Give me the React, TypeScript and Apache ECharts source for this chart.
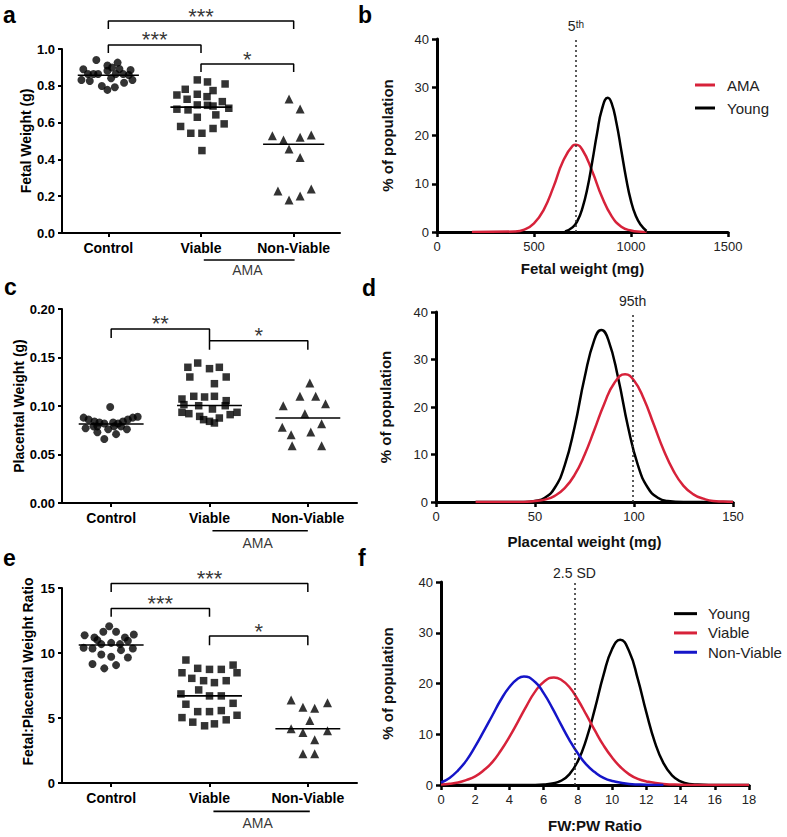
import React, { useEffect, useRef } from 'react';
import * as echarts from 'echarts';

const FONT = "'Liberation Sans', Arial, Helvetica, sans-serif";
const RED = '#d7223a';
const BLUE = '#1515c8';

// ---------- categories ----------
const groups = ['Control', 'Viable', 'Non-Viable'];

// ---------- panel a: fetal weight (g), [jitter offset, value] ----------
const fwControl = [[-0.13, 0.94], [-0.27, 0.89], [-0.29, 0.832], [-0.2, 0.826], [-0.16, 0.864], [-0.11, 0.864], [-0.07, 0.799], [-0.01, 0.91], [-0.01, 0.882], [0.03, 0.841], [-0.01, 0.778], [0.07, 0.792], [0.08, 0.864], [0.1, 0.926], [0.12, 0.891], [0.16, 0.864], [0.17, 0.817], [0.24, 0.886], [0.26, 0.832], [-0.22, 0.864], [0.04, 0.899], [0.22, 0.859]];
const fwViable = [[-0.04, 0.832], [0.07, 0.821], [0.26, 0.81], [-0.17, 0.781], [-0.26, 0.75], [-0.15, 0.727], [-0.04, 0.754], [0.13, 0.774], [0.065, 0.741], [-0.26, 0.673], [-0.14, 0.669], [-0.04, 0.696], [0.07, 0.694], [0.13, 0.69], [0.23, 0.714], [0.3, 0.678], [0.16, 0.642], [-0.04, 0.629], [-0.22, 0.579], [-0.11, 0.542], [0.01, 0.542], [0.13, 0.568], [0.25, 0.593], [0.01, 0.448]];
const fwNonViable = [[-0.05, 0.728], [0.07, 0.674], [-0.23, 0.529], [-0.11, 0.505], [0.07, 0.52], [0.19, 0.533], [-0.05, 0.457], [0.07, 0.411], [-0.17, 0.228], [-0.05, 0.179], [0.07, 0.201], [0.19, 0.239]];
const fwMeans = [0.857, 0.684, 0.482];

// ---------- panel c: placental weight (g) ----------
const pwControl = [[-0.28, 0.088], [-0.23, 0.086], [-0.17, 0.084], [-0.12, 0.083], [-0.07, 0.082], [-0.01, 0.099], [0.02, 0.083], [0.07, 0.082], [0.12, 0.084], [0.17, 0.086], [0.22, 0.088], [0.27, 0.089], [-0.26, 0.077], [-0.18, 0.079], [-0.14, 0.079], [-0.07, 0.066], [0.05, 0.071], [0.16, 0.076], [-0.14, 0.073], [-0.03, 0.076], [0.03, 0.079], [0.1, 0.079]];
const pwViable = [[-0.12, 0.1443], [-0.22, 0.1399], [0, 0.1385], [0.1, 0.1399], [-0.2, 0.1299], [0.17, 0.1299], [0.05, 0.123], [-0.28, 0.1072], [-0.16, 0.11], [0.05, 0.11], [0.17, 0.1055], [-0.26, 0.1014], [-0.11, 0.1003], [0.03, 0.0969], [0.16, 0.1003], [-0.28, 0.0935], [-0.21, 0.0921], [-0.1, 0.0893], [0, 0.0842], [0.1, 0.0876], [0.21, 0.0911], [0.28, 0.0935], [-0.06, 0.0859], [0.05, 0.0825], [-0.05, 0.1093]];
const pwNonViable = [[0.02, 0.1237], [-0.08, 0.11], [0.08, 0.11], [-0.25, 0.1003], [-0.03, 0.0921], [0.18, 0.1024], [-0.26, 0.078], [-0.17, 0.0704], [0.03, 0.0732], [0.14, 0.0818], [-0.16, 0.059], [0.14, 0.059]];
const pwMeans = [0.0814, 0.1005, 0.0876];

// ---------- panel e: fetal:placental weight ratio ----------
const ratioControl = [[-0.02, 12.06], [-0.27, 11.37], [-0.17, 11.19], [-0.08, 11.63], [0.05, 11.63], [0.14, 11.19], [0.23, 11.42], [-0.28, 10.4], [-0.19, 10.35], [-0.1, 10.68], [0, 10.78], [0.09, 10.68], [0.17, 10.94], [0.22, 10.35], [-0.1, 9.89], [0, 9.71], [0.17, 9.66], [-0.19, 9.15], [-0.07, 8.82], [0.05, 9.07], [-0.14, 10.99], [0.1, 10.22]];
const ratioViable = [[-0.24, 9.46], [-0.28, 8.48], [-0.12, 8.82], [0, 8.74], [0.12, 8.74], [0.24, 9.07], [0.28, 8.48], [-0.18, 8.05], [-0.06, 7.87], [0.05, 7.72], [0.17, 7.87], [-0.11, 7.16], [-0.29, 6.85], [0, 6.7], [0.12, 6.7], [-0.24, 6.06], [0.24, 6.13], [-0.12, 5.49], [0, 5.49], [0.12, 5.57], [0.28, 5.21], [-0.28, 5.03], [-0.17, 4.68], [-0.05, 4.4], [0.05, 4.55], [0.17, 4.86]];
const ratioNonViable = [[-0.17, 6.39], [-0.05, 5.83], [0.07, 5.75], [0.2, 6.18], [-0.17, 4.17], [0.02, 4.8], [-0.05, 3.88], [0.2, 4.01], [0.07, 3.32], [-0.05, 2.25], [0.07, 2.25]];
const ratioMeans = [10.62, 6.7, 4.17];

// ---------- significance brackets (category units / data units) ----------
type Bracket = { from: number; to: number; top: number; legFrom: number; legTo: number; stars: string };
const bracketsA: Bracket[] = [
  { from: 0, to: 2, top: 1.152, legFrom: 1.109, legTo: 1.109, stars: '***' },
  { from: 0, to: 1, top: 1.022, legFrom: 0.978, legTo: 0.978, stars: '***' },
  { from: 1, to: 2, top: 0.918, legFrom: 0.875, legTo: 0.875, stars: '*' },
];
const bracketsC: Bracket[] = [
  { from: 0, to: 1, top: 0.1794, legFrom: 0.1701, legTo: 0.1673, stars: '**' },
  { from: 1, to: 2, top: 0.1673, legFrom: 0.158, legTo: 0.158, stars: '*' },
];
const bracketsE: Bracket[] = [
  { from: 0, to: 2, top: 15.34, legFrom: 14.69, legTo: 14.69, stars: '***' },
  { from: 0, to: 1, top: 13.42, legFrom: 12.78, legTo: 12.78, stars: '***' },
  { from: 1, to: 2, top: 11.3, legFrom: 10.6, legTo: 10.6, stars: '*' },
];
// AMA group underline: [from, to, lineY, textX, textY]
const amaA = [1.03, 2.01, -0.147, 1.5, -0.2];
const amaC = [1.03, 2.0, -0.0286, 1.49, -0.041];
const amaE = [1.04, 2.02, -2.18, 1.49, -3.07];

// ---------- panel b: fetal weight distributions ----------
const bAmaX = [180, 400, 450, 500, 550, 600, 650, 700, 715, 750, 800, 850, 900, 950, 1000, 1050, 1080];
const bAmaY = [0, 0.1, 0.5, 1.8, 4.6, 9.3, 14.7, 17.9, 18.1, 17.0, 12.6, 7.3, 3.3, 1.1, 0.3, 0.05, 0];
const bYoungX = [660, 700, 725, 750, 775, 800, 825, 850, 880, 900, 925, 950, 975, 1000, 1025, 1050, 1080];
const bYoungY = [0.1, 1.0, 2.4, 5.0, 9.0, 14.5, 20.4, 25.4, 27.8, 26.7, 22.6, 16.9, 11.1, 6.4, 3.3, 1.5, 0.2];
const bCutoff = 716;

// ---------- panel d: placental weight distributions ----------
const dYoungX = [20, 45, 50, 55, 60, 65, 70, 75, 80, 83.5, 87, 92, 97, 102, 107, 112, 117, 125, 150];
const dYoungY = [0, 0, 0.2, 0.9, 3.0, 7.7, 15.8, 26.1, 34.2, 36.2, 34.2, 26.1, 15.8, 7.7, 3.0, 0.9, 0.2, 0, 0];
const dAmaX = [20, 40, 50, 55, 60, 65, 70, 75, 80, 85, 90, 95.5, 100, 105, 110, 115, 120, 125, 130, 135, 140, 145, 150];
const dAmaY = [0, 0, 0.2, 0.5, 1.3, 2.9, 5.7, 9.9, 15.2, 20.7, 25.0, 26.9, 25.6, 21.7, 16.3, 10.9, 6.5, 3.4, 1.6, 0.7, 0.2, 0.1, 0];
const dCutoff = 99.3;

// ---------- panel f: FW:PW ratio distributions ----------
const fYoungX = [0, 5, 6, 6.5, 7, 7.5, 8, 8.5, 9, 9.5, 10, 10.47, 11, 11.5, 12, 12.5, 13, 13.5, 14, 14.5, 15, 16, 18];
const fYoungY = [0, 0, 0.1, 0.3, 0.8, 2.1, 4.7, 9.1, 15.1, 21.7, 26.8, 28.6, 26.3, 20.9, 14.3, 8.4, 4.3, 1.9, 0.7, 0.2, 0.1, 0, 0];
const fViableX = [0, 0.5, 1, 1.5, 2, 2.5, 3, 3.5, 4, 4.5, 5, 5.5, 6, 6.6, 7, 7.5, 8, 8.5, 9, 9.5, 10, 10.5, 11, 11.5, 12, 13, 14, 15, 18];
const fViableY = [0.1, 0.25, 0.5, 1.0, 1.7, 2.9, 4.5, 6.8, 9.5, 12.5, 15.6, 18.4, 20.3, 21.2, 20.8, 19.3, 16.8, 13.8, 10.7, 7.8, 5.4, 3.5, 2.1, 1.2, 0.7, 0.2, 0.05, 0, 0];
const fNonViableX = [0, 0.5, 1, 1.5, 2, 2.5, 3, 3.5, 4, 4.5, 4.85, 5.5, 6, 6.5, 7, 7.5, 8, 8.5, 9, 9.5, 10, 11, 12, 13];
const fNonViableY = [0.5, 1.4, 2.9, 4.9, 7.6, 10.6, 13.7, 16.8, 19.3, 21.0, 21.4, 20.3, 18.1, 15.2, 12.0, 8.9, 6.2, 4.0, 2.5, 1.4, 0.8, 0.2, 0.05, 0];
const fCutoff = 7.8;

const zip = (xs: number[], ys: number[]) => xs.map((x, i) => [x, ys[i]]);

function buildOption(): any {
  const series: any[] = [];

  const boldLabel = { fontFamily: FONT, fontWeight: 'bold', color: '#000' };
  const plainLabel = { fontFamily: FONT, color: '#222' };

  const groupPanel = (
    xi: number, yi: number, yMax: number,
    sets: number[][][], means: number[], brackets: Bracket[], ama: number[],
  ) => {
    // left axis line, drawn through the hidden axis so it always sits at the grid edge
    series.push({
      type: 'line', xAxisIndex: xi, yAxisIndex: yi, symbol: 'none', silent: true, clip: false,
      lineStyle: { color: '#000', width: 2 },
      data: [[-0.5, 0], [-0.5, yMax]],
    });
    const symbols = ['circle', 'rect', 'triangle'];
    const sizes = [8, 7.5, 9];
    sets.forEach((pts, g) => {
      series.push({
        type: 'scatter', name: groups[g] + xi, xAxisIndex: xi, yAxisIndex: yi,
        symbol: symbols[g], symbolSize: sizes[g], clip: false, silent: true,
        itemStyle: { color: '#000' },
        data: pts.map(([o, v]) => [g + o, v]),
      });
    });
    means.forEach((m, g) => {
      series.push({
        type: 'line', xAxisIndex: xi, yAxisIndex: yi, symbol: 'none', silent: true, clip: false,
        lineStyle: { color: '#000', width: 1.6 },
        data: [[g - 0.33, m], [g + 0.33, m]],
      });
    });
    brackets.forEach((b) => {
      series.push({
        type: 'line', xAxisIndex: xi, yAxisIndex: yi, symbol: 'none', silent: true, clip: false,
        lineStyle: { color: '#000', width: 1.5 },
        data: [[b.from, b.legFrom], [b.from, b.top], [b.to, b.top], [b.to, b.legTo]],
      });
      series.push({
        type: 'scatter', xAxisIndex: xi, yAxisIndex: yi, symbolSize: 0, silent: true, clip: false,
        data: [[(b.from + b.to) / 2, b.top]],
        label: {
          show: true, position: 'inside', offset: [0, -5], formatter: b.stars,
          fontSize: 22, fontFamily: FONT, color: '#000',
        },
      });
    });
    series.push({
      type: 'line', xAxisIndex: xi, yAxisIndex: yi, symbol: 'none', silent: true, clip: false,
      lineStyle: { color: '#000', width: 1.6 },
      data: [[ama[0], ama[2]], [ama[1], ama[2]]],
    });
    series.push({
      type: 'scatter', xAxisIndex: xi, yAxisIndex: yi, symbolSize: 0, silent: true, clip: false,
      data: [[ama[3], ama[4]]],
      label: { show: true, position: 'inside', formatter: 'AMA', fontSize: 14, fontFamily: FONT, color: '#000' },
    });
  };

  groupPanel(1, 0, 1, [fwControl, fwViable, fwNonViable], fwMeans, bracketsA, amaA);
  groupPanel(4, 2, 0.2, [pwControl, pwViable, pwNonViable], pwMeans, bracketsC, amaC);
  groupPanel(7, 4, 15, [ratioControl, ratioViable, ratioNonViable], ratioMeans, bracketsE, amaE);

  const curve = (name: string, xi: number, yi: number, data: number[][], color: string, extra: any = {}) => ({
    type: 'line', name, xAxisIndex: xi, yAxisIndex: yi, symbol: 'none', showSymbol: false,
    smooth: 0.5, silent: true,
    lineStyle: { color, width: 2.5 }, itemStyle: { color }, data, ...extra,
  });
  const cutLine = (x: number, text: string, distance: number) => ({
    markLine: {
      silent: true, symbol: ['none', 'none'], animation: false,
      lineStyle: { type: [2, 3], color: '#333', width: 1.6 },
      label: {
        show: true, position: 'end', distance, formatter: text,
        fontSize: 14, fontFamily: FONT, color: '#222',
        rich: { s: { fontSize: 10, fontFamily: FONT, color: '#222', verticalAlign: 'top', lineHeight: 10 } },
      },
      data: [{ xAxis: x }],
    },
  });

  series.push(curve('AMA', 2, 1, zip(bAmaX, bAmaY), RED, cutLine(bCutoff, '5{s|th}', 6)));
  series.push(curve('Young', 2, 1, zip(bYoungX, bYoungY), '#000'));
  series.push(curve('Young placental', 5, 3, zip(dYoungX, dYoungY), '#000', cutLine(dCutoff, '95th', 4)));
  series.push(curve('AMA placental', 5, 3, zip(dAmaX, dAmaY), RED));
  series.push(curve('Young', 8, 5, zip(fYoungX, fYoungY), '#000', cutLine(fCutoff, '2.5 SD', 2)));
  series.push(curve('Viable', 8, 5, zip(fViableX, fViableY), RED));
  series.push(curve('Non-Viable', 8, 5, zip(fNonViableX, fNonViableY), BLUE));

  const grids = [
    { left: 62, top: 49, width: 278, height: 184 },
    { left: 437, top: 39, width: 291, height: 193 },
    { left: 62, top: 309, width: 295, height: 194 },
    { left: 436, top: 312, width: 297, height: 190 },
    { left: 62, top: 588, width: 295, height: 195 },
    { left: 441, top: 582, width: 308, height: 203 },
  ];

  const catAxis = (gridIndex: number) => ({
    type: 'category', gridIndex, data: groups, boundaryGap: true,
    axisLine: { show: true, onZero: false, lineStyle: { color: '#000', width: 2 } },
    axisTick: { show: true, alignWithLabel: true, length: 4, lineStyle: { color: '#000', width: 2 } },
    axisLabel: { ...boldLabel, fontSize: 14, margin: 8, interval: 0 },
    splitLine: { show: false },
  });
  const hiddenAxis = (gridIndex: number) => ({ type: 'value', gridIndex, min: -0.5, max: 2.5, show: false });
  const distX = (gridIndex: number, max: number, interval: number, name: string, nameGap: number) => ({
    type: 'value', gridIndex, min: 0, max, interval, name, nameLocation: 'middle', nameGap,
    nameTextStyle: { fontFamily: FONT, fontWeight: 'bold', fontSize: 15, color: '#111' },
    axisLine: { show: true, onZero: false, lineStyle: { color: '#000', width: 3 } },
    axisTick: { show: true, length: 5, lineStyle: { color: '#000', width: 2.5 } },
    axisLabel: { ...plainLabel, fontSize: 13, margin: 8, formatter: (v: number) => String(v) },
    splitLine: { show: false },
  });
  const distY = (gridIndex: number, nameGap: number) => ({
    type: 'value', gridIndex, min: 0, max: 40, interval: 10, name: '% of population',
    nameLocation: 'middle', nameGap, nameRotate: 90,
    nameTextStyle: { fontFamily: FONT, fontWeight: 'bold', fontSize: 15, color: '#111' },
    axisLine: { show: true, onZero: false, lineStyle: { color: '#000', width: 3 } },
    axisTick: { show: true, length: 5, lineStyle: { color: '#000', width: 2.5 } },
    axisLabel: { ...plainLabel, fontSize: 13, margin: 8 },
    splitLine: { show: false },
  });
  const groupY = (gridIndex: number, max: number, interval: number, digits: number, name: string, pad: number[]) => ({
    type: 'value', gridIndex, min: 0, max, interval, name, nameLocation: 'middle', nameGap: 27, nameRotate: 90,
    nameTextStyle: { fontFamily: FONT, fontWeight: 'bold', fontSize: 14, color: '#000', padding: pad },
    axisLine: { show: true, onZero: false, lineStyle: { color: '#000', width: 2 } },
    axisTick: { show: true, length: 4, lineStyle: { color: '#000', width: 2 } },
    axisLabel: { ...boldLabel, fontSize: 13, margin: 7, formatter: (v: number) => v.toFixed(digits) },
    splitLine: { show: false },
  });

  const xAxis = [
    catAxis(0), hiddenAxis(0),
    distX(1, 1500, 500, 'Fetal weight (mg)', 29),
    catAxis(2), hiddenAxis(2),
    distX(3, 150, 50, 'Placental weight (mg)', 32),
    catAxis(4), hiddenAxis(4),
    distX(5, 18, 2, 'FW:PW Ratio', 33),
  ];
  const yAxis = [
    groupY(0, 1, 0.2, 1, 'Fetal Weight (g)', [0, 0, 0, 0]),
    distY(1, 42),
    groupY(2, 0.2, 0.05, 2, 'Placental Weight (g)', [0, 0, 0, 0]),
    distY(3, 43),
    groupY(4, 15, 5, 0, 'Fetal:Placental Weight Ratio', [0, 0, 0, 28]),
    distY(5, 46),
  ];

  const legendText = (pad: number, lh: number) => ({
    fontFamily: FONT, fontSize: 15, color: '#222', lineHeight: lh, padding: [0, 0, 0, pad],
  });
  const legend = [
    {
      data: ['AMA', 'Young'], left: 690, top: 71, orient: 'vertical', icon: 'rect',
      itemWidth: 20, itemHeight: 3, itemGap: 5, textStyle: legendText(7, 18), selectedMode: false,
    },
    {
      data: ['Young', 'Viable', 'Non-Viable'], left: 669, top: 600, orient: 'vertical', icon: 'rect',
      itemWidth: 23, itemHeight: 3, itemGap: 2, textStyle: legendText(6, 17.3), selectedMode: false,
    },
  ];

  const panelLabel = (text: string, x: number, y: number) => ({
    type: 'text', x, y, silent: true,
    style: { text, fill: '#000', font: `bold 23px ${FONT}`, verticalAlign: 'middle' },
  });

  return {
    animation: false,
    backgroundColor: '#fff',
    grid: grids,
    xAxis,
    yAxis,
    legend,
    series,
    graphic: [
      panelLabel('a', 3, 15),
      panelLabel('b', 358, 15),
      panelLabel('c', 4, 287),
      panelLabel('d', 362, 288),
      panelLabel('e', 3, 558),
      panelLabel('f', 358, 558),
    ],
  };
}

export default function App() {
  const ref = useRef<HTMLDivElement>(null);
  useEffect(() => {
    document.body.style.margin = '0';
    const chart = echarts.init(ref.current!, null, { renderer: 'svg' });
    chart.setOption(buildOption());
    return () => chart.dispose();
  }, []);
  return <div ref={ref} style={{ width: 787, height: 837 }} />;
}
